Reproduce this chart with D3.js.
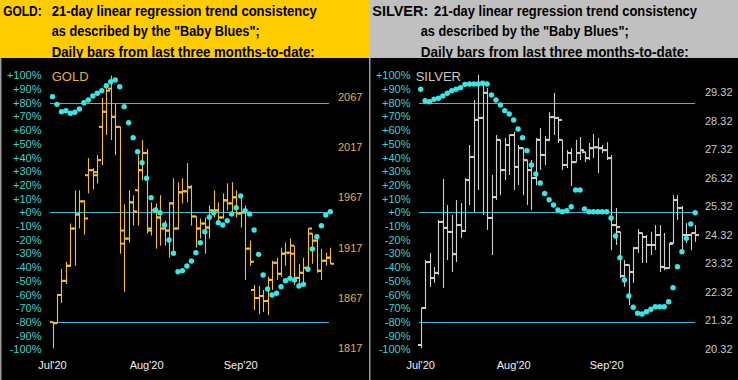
<!DOCTYPE html>
<html><head><meta charset="utf-8">
<script src="https://cdn.jsdelivr.net/npm/d3@7"></script>
<style>html,body{margin:0;padding:0;background:#000;} svg{display:block;}</style>
</head><body><svg id="c" width="738" height="380"></svg>
<script>
// ---------- DATA ----------
const barIndex = d3.range(63); // daily bars Jul'20 .. Sep'20
const monthLabels = ["Jul'20", "Aug'20", "Sep'20"];
const monthAt = [0, 21, 42];
const pctTicks = d3.range(-100, 101, 10);
const refLines = [80, 0, -80];
const goldPriceTicks = [1817, 1867, 1917, 1967, 2017, 2067];
const silverPriceTicks = [20.32, 21.32, 22.32, 23.32, 24.32, 25.32, 26.32, 27.32, 28.32, 29.32];

const goldHigh = [1843,1871,1896,1903,1941,1974,1974,1964,2006,1996,2009,2066,2078,2088,2060,2037,1960,1974,1969,2009,2024,2015,1962,1961,1969,1944,1962,1986,1982,1986,2001,1979,1948,1946,1947,1959,1974,1962,1971,1981,1982,1974,1966,1959,1924,1880,1879,1875,1888,1904,1907,1917,1922,1926,1919,1901,1907,1936,1931,1927,1916,1912,1917];
const goldLow  = [1817,1842,1862,1881,1898,1899,1936,1930,1971,1975,1981,1999,2029,2024,2009,1911,1873,1922,1939,1939,1984,1931,1929,1916,1919,1919,1907,1914,1935,1961,1962,1939,1917,1926,1911,1926,1947,1942,1946,1954,1951,1947,1937,1885,1899,1855,1851,1853,1850,1875,1885,1888,1899,1885,1880,1878,1882,1896,1901,1892,1885,1899,1901];
const goldOpen = [1843,1842,1870,1884,1899,1936,1950,1963,1989,1994,1989,2037,2052,2075,2047,2037,1934,1926,1962,1974,1994,2011,1936,1954,1947,1936,1934,1961,1936,1972,1973,1977,1948,1936,1941,1937,1954,1954,1947,1964,1961,1967,1951,1952,1916,1875,1867,1869,1864,1885,1902,1891,1911,1912,1911,1887,1892,1897,1931,1924,1894,1904,1907];
const goldClose= [1842,1870,1884,1899,1936,1950,1963,1946,1994,1992,2004,2052,2073,2047,2037,1921,1926,1962,1953,1994,2011,1934,1954,1947,1936,1934,1961,1936,1972,1973,1977,1948,1936,1941,1937,1954,1954,1947,1964,1961,1967,1951,1952,1916,1903,1867,1869,1864,1885,1902,1891,1911,1912,1919,1887,1892,1897,1936,1924,1894,1904,1907,1901];
const goldBlues = [84.4,78.8,73.4,74.2,72.3,73.0,75.4,80.0,82.0,84.9,86.9,88.8,92.4,95.3,96.6,91.7,77.1,65.4,54.5,44.2,36.2,24.8,10.7,1.7,-0.3,-9.3,-20.2,-29.9,-43.4,-42.6,-39.2,-35.5,-29.5,-22.2,-14.2,-3.6,-0.3,-7.6,-9.3,-6.1,-1.2,3.3,11.9,1.2,-1.2,-12.9,-30.7,-45.8,-56.0,-60.4,-59.1,-54.3,-49.9,-48.2,-49.4,-53.8,-52.6,-41.6,-26.8,-17.8,-9.8,-2.0,0.4];

const silverHigh = [21.75,23.43,23.68,23.19,24.84,26.28,25.36,25.01,25.54,25.43,26.31,27.47,29.05,29.93,29.65,29.47,26.42,27.82,27.65,27.72,27.82,27.93,27.47,27.36,26.94,26.94,27.72,28.07,27.79,28.63,29.30,28.45,27.65,27.29,27.36,27.65,27.75,27.22,27.54,27.86,27.72,27.47,27.57,27.12,25.26,24.42,23.43,23.26,23.89,24.52,24.38,24.31,24.42,24.66,24.66,24.38,24.03,25.71,25.71,25.33,24.73,24.38,24.66];
const silverLow  = [20.34,21.71,22.49,22.63,22.91,22.45,23.43,23.01,23.36,24.21,24.42,25.36,25.12,25.89,25.01,24.49,23.61,25.54,25.71,26.24,26.42,25.89,26.06,25.71,25.36,25.19,26.06,26.59,26.77,27.60,27.82,27.54,26.59,26.66,26.03,26.87,26.94,26.87,26.94,27.01,26.49,27.19,26.94,23.78,23.96,22.80,22.49,21.85,22.63,23.68,23.33,23.33,23.61,23.78,23.01,23.08,23.15,24.03,24.84,23.68,24.03,23.78,24.07];
const silverOpen = [20.45,21.75,23.36,22.80,22.98,24.77,24.56,24.42,23.64,24.66,24.45,26.24,27.05,28.35,28.42,29.30,24.91,25.64,27.65,26.59,27.47,27.82,26.70,27.36,26.94,26.59,26.31,27.65,27.12,27.65,28.45,28.42,27.65,26.77,27.19,26.87,27.19,27.22,27.01,27.36,27.39,27.36,27.29,27.01,24.66,24.42,22.87,23.26,23.01,23.85,24.38,24.24,23.96,23.96,24.31,23.19,23.15,24.03,25.54,25.26,24.31,24.31,24.38];
const silverClose= [21.75,23.36,22.80,22.98,24.77,24.56,24.42,23.64,24.66,24.45,26.24,27.05,28.35,28.42,29.30,24.91,25.64,27.65,26.59,27.47,27.82,26.70,27.36,26.94,26.59,26.31,27.65,27.12,27.65,28.45,28.42,28.35,26.77,27.19,26.87,27.19,27.29,27.01,27.36,27.39,27.36,27.29,27.01,24.66,24.59,22.87,23.26,23.01,23.85,24.38,24.24,23.96,23.96,24.31,23.19,23.15,24.00,25.54,25.26,24.31,24.31,24.38,24.31];
const silverBlues = [89.8,81.5,80.7,82.5,83.2,84.9,86.9,88.8,89.8,91.0,93.4,93.6,93.6,93.6,94.2,93.6,85.6,82.0,78.3,74.2,71.8,67.4,60.8,54.5,45.0,34.5,28.0,21.4,13.7,9.2,5.3,1.7,0.4,1.2,4.1,16.3,16.3,2.4,0.4,0.4,0.4,0.4,0.4,-4.2,-17.3,-33.1,-49.4,-61.1,-69.3,-73.7,-74.2,-72.6,-70.8,-68.9,-68.9,-68.9,-65.3,-55.0,-39.7,-28.8,-19.0,-8.5,-0.3];

// ---------- DRAW ----------
const FONT = "'Liberation Sans', Arial, sans-serif";
const svg = d3.select("#c");
svg.append("rect").attr("width",738).attr("height",380).attr("fill","#000");

function panel(cfg){
  const g = svg.append("g");
  // header
  g.append("rect").attr("x",cfg.hx).attr("y",0).attr("width",cfg.hw).attr("height",58).attr("fill",cfg.headFill);
  const ht = g.append("g").attr("font-family",FONT).attr("font-weight","bold").attr("font-size",14).attr("fill","#000");
  cfg.head.forEach(h=>{
    ht.append("text").attr("x",h.x).attr("y",h.y).attr("textLength",h.w).attr("lengthAdjust","spacingAndGlyphs").text(h.t);
  });
  // left border
  g.append("rect").attr("x",cfg.bx).attr("y",58).attr("width",1.5).attr("height",322).attr("fill","#9a9a9a");

  const x = d3.scalePoint().domain(barIndex).range(cfg.xr);
  const pct = d3.scaleLinear().domain([-100,100]).range([349.3,75.3]);
  const py = d3.scaleLinear().domain(cfg.pd).range(cfg.pr);

  // reference lines
  g.selectAll("line.ref").data(refLines).join("line")
    .attr("x1",cfg.lx[0]).attr("x2",cfg.lx[1])
    .attr("y1",d=>Math.round(pct(d))+0.5).attr("y2",d=>Math.round(pct(d))+0.5)
    .attr("stroke","#45b4d8").attr("stroke-width",1.2);

  // left % axis
  const la = g.append("g").attr("transform",`translate(${cfg.lax},0)`)
    .call(d3.axisLeft(pct).tickValues(pctTicks).tickSize(0).tickPadding(0)
      .tickFormat(d=>(d>=0?"+":"")+d+"%"));
  la.select(".domain").remove();
  la.selectAll("text").attr("fill","#3cd4d4").attr("font-family",FONT).attr("font-size",11);

  // right price axis
  const ra = g.append("g").attr("transform",`translate(${cfg.rax},0)`)
    .call(d3.axisRight(py).tickValues(cfg.pt).tickSize(0).tickPadding(0).tickFormat(cfg.pf));
  ra.select(".domain").remove();
  ra.selectAll("text").attr("fill",cfg.labelColor).attr("font-family",FONT).attr("font-size",11);

  // month labels
  g.selectAll("text.mon").data(monthLabels).join("text")
    .attr("x",(d,i)=>x(monthAt[i])).attr("y",369).attr("text-anchor","middle")
    .attr("fill","#f2f2f2").attr("font-family",FONT).attr("font-size",11).text(d=>d);

  // title
  g.append("text").attr("x",cfg.tx).attr("y",80.7).attr("fill",cfg.labelColor)
    .attr("font-family",FONT).attr("font-size",13).text(cfg.title);

  // OHLC bars
  const bars = g.append("g").attr("fill",cfg.barColor).attr("stroke",cfg.barColor);
  barIndex.forEach(i=>{
    const cx = Math.round(x(i))+0.5;
    bars.append("line").attr("x1",cx).attr("x2",cx)
      .attr("y1",py(cfg.H[i])).attr("y2",py(cfg.L[i])).attr("stroke-width",1.1);
    bars.append("rect").attr("x",cx-3.5).attr("y",py(cfg.O[i])-1).attr("width",3.5).attr("height",2).attr("stroke","none");
    bars.append("rect").attr("x",cx).attr("y",py(cfg.C[i])-1).attr("width",3.5).attr("height",2).attr("stroke","none");
  });

  // baby blues
  g.selectAll("circle.bb").data(cfg.B).join("circle")
    .attr("cx",(d,i)=>x(i)).attr("cy",d=>pct(d)).attr("r",2.7).attr("fill","#38e6e6");
}

panel({
  hx:0, hw:370, headFill:"#ffcc00", bx:0,
  head:[{x:3.3,y:15.5,w:38.4,t:"GOLD:"},
        {x:51.7,y:15.5,w:265,t:"21-day linear regression trend consistency"},
        {x:51.7,y:36,w:208,t:"as described by the \"Baby Blues\";"},
        {x:51.7,y:56.5,w:263,t:"Daily bars from last three months-to-date:"}],
  xr:[52.5,330.3], lx:[50,329], lax:41.5, rax:338,
  pd:[1817,2067], pr:[348.3,96.7], pt:goldPriceTicks, pf:d3.format("d"),
  labelColor:"#e4b23c", barColor:"#f4c02e", title:"GOLD", tx:51.7,
  H:goldHigh, L:goldLow, O:goldOpen, C:goldClose, B:goldBlues
});

panel({
  hx:370, hw:368, headFill:"#c0c0c0", bx:369,
  head:[{x:372.3,y:15.5,w:56,t:"SILVER:"},
        {x:434,y:15.5,w:263,t:"21-day linear regression trend consistency"},
        {x:420.7,y:36,w:208,t:"as described by the \"Baby Blues\";"},
        {x:420.7,y:56.5,w:268,t:"Daily bars from last three months-to-date:"}],
  xr:[420.7,695.2], lx:[419,695], lax:410.5, rax:705,
  pd:[20.32,29.32], pr:[348.7,92.3], pt:silverPriceTicks, pf:d3.format(".2f"),
  labelColor:"#c8c8c8", barColor:"#cfcfcf", title:"SILVER", tx:415.7,
  H:silverHigh, L:silverLow, O:silverOpen, C:silverClose, B:silverBlues
});
</script>
</body></html>
